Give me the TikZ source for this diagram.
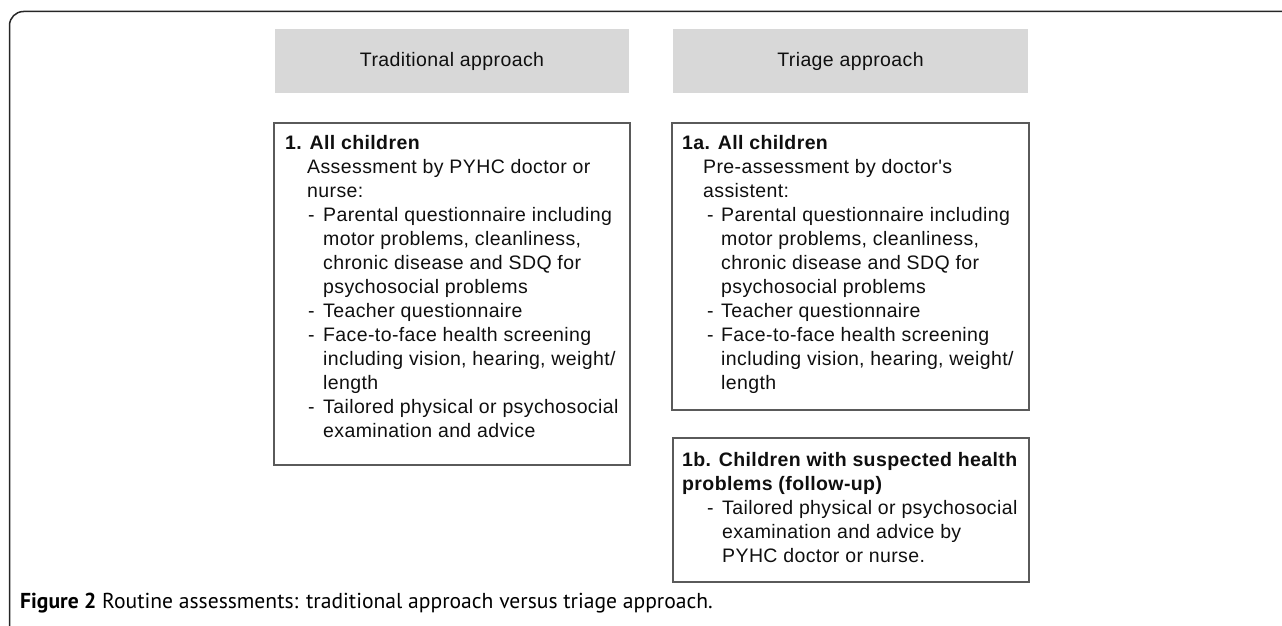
\documentclass[tikz,border=0pt]{standalone}
\usepackage{fontspec}
\setmainfont{Liberation Sans}
\newfontfamily\boxfont{Liberation Sans}[LetterSpace=2]
\newfontfamily\capfont{PT Sans}
\definecolor{hdrgray}{RGB}{216,216,216}
\definecolor{boxline}{RGB}{90,90,90}
\definecolor{txtcol}{RGB}{15,15,15}
\begin{document}
\begin{tikzpicture}[x=1pt,y=-1pt,
  hdr/.style={fill=hdrgray, draw=none, inner sep=0pt, minimum height=64pt, text=txtcol, font=\boxfont\fontsize{19.5}{24}\selectfont},
  box/.style={draw=boxline, line width=1.6pt, inner sep=0pt},
  txt/.style={anchor=base west, inner sep=0pt, text=txtcol, font=\boxfont\fontsize{19.5}{24}\selectfont},
  bold/.style={txt, font=\boxfont\bfseries\fontsize{19.5}{24}\selectfont},
  frame/.style={draw=black!85, line width=1.5pt}
]
\useasboundingbox (0,0) rectangle (1282,626);
\draw[frame, rounded corners=14pt] (9.5,626) -- (9.5,11.5) -- (1282,11.5);

% headers
\node[hdr, minimum width=354pt] (hL) at (452,61) {Traditional approach};
\node[hdr, minimum width=355pt] (hR) at (850.5,61) {Triage approach};

% boxes
\node[box, minimum width=356pt, minimum height=342pt] (bL) at (452,294) {};
\node[box, minimum width=357pt, minimum height=287pt] (bA) at (850.5,266.5) {};
\node[box, minimum width=356pt, minimum height=144pt] (bB) at (851,510) {};

% left box text
\node[bold] (l1) at (285,149) {1. All children};
\node[txt] (l2) at (307,173) {Assessment by PYHC doctor or};
\node[txt] (l3) at (307,197) {nurse:};
\node[txt] (l4d) at (308,221) {-};
\node[txt] (l4) at (323,221) {Parental questionnaire including};
\node[txt] (l5) at (323,245) {motor problems, cleanliness,};
\node[txt] (l6) at (323,269) {chronic disease and SDQ for};
\node[txt] (l7) at (323,293) {psychosocial problems};
\node[txt] (l8d) at (308,317) {-};
\node[txt] (l8) at (323,317) {Teacher questionnaire};
\node[txt] (l9d) at (308,341) {-};
\node[txt] (l9) at (323,341) {Face-to-face health screening};
\node[txt] (l10) at (323,365) {including vision, hearing, weight/};
\node[txt] (l11) at (323,389) {length};
\node[txt] (l12d) at (308,413) {-};
\node[txt] (l12) at (323,413) {Tailored physical or psychosocial};
\node[txt] (l13) at (323,437) {examination and advice};

% right box 1a text
\node[bold] (r1) at (682,149) {1a. All children};
\node[txt] (r2) at (703,173) {Pre-assessment by doctor's};
\node[txt] (r3) at (703,197) {assistent:};
\node[txt] (r4d) at (707,221) {-};
\node[txt] (r4) at (721,221) {Parental questionnaire including};
\node[txt] (r5) at (721,245) {motor problems, cleanliness,};
\node[txt] (r6) at (721,269) {chronic disease and SDQ for};
\node[txt] (r7) at (721,293) {psychosocial problems};
\node[txt] (r8d) at (707,317) {-};
\node[txt] (r8) at (721,317) {Teacher questionnaire};
\node[txt] (r9d) at (707,341) {-};
\node[txt] (r9) at (721,341) {Face-to-face health screening};
\node[txt] (r10) at (721,365) {including vision, hearing, weight/};
\node[txt] (r11) at (721,389) {length};

% right box 1b text
\node[bold] (s1) at (682,466) {1b. Children with suspected health};
\node[bold] (s2) at (682,490) {problems (follow-up)};
\node[txt] (s3d) at (707,514) {-};
\node[txt] (s3) at (722,514) {Tailored physical or psychosocial};
\node[txt] (s4) at (722,538) {examination and advice by};
\node[txt] (s5) at (722,562) {PYHC doctor or nurse.};

% caption
\node[anchor=base west, inner sep=0pt, font=\capfont\fontsize{21.6}{24}\selectfont] (cap) at (20,608) {\textbf{Figure 2} Routine assessments: traditional approach versus triage approach.};
\end{tikzpicture}
\end{document}
